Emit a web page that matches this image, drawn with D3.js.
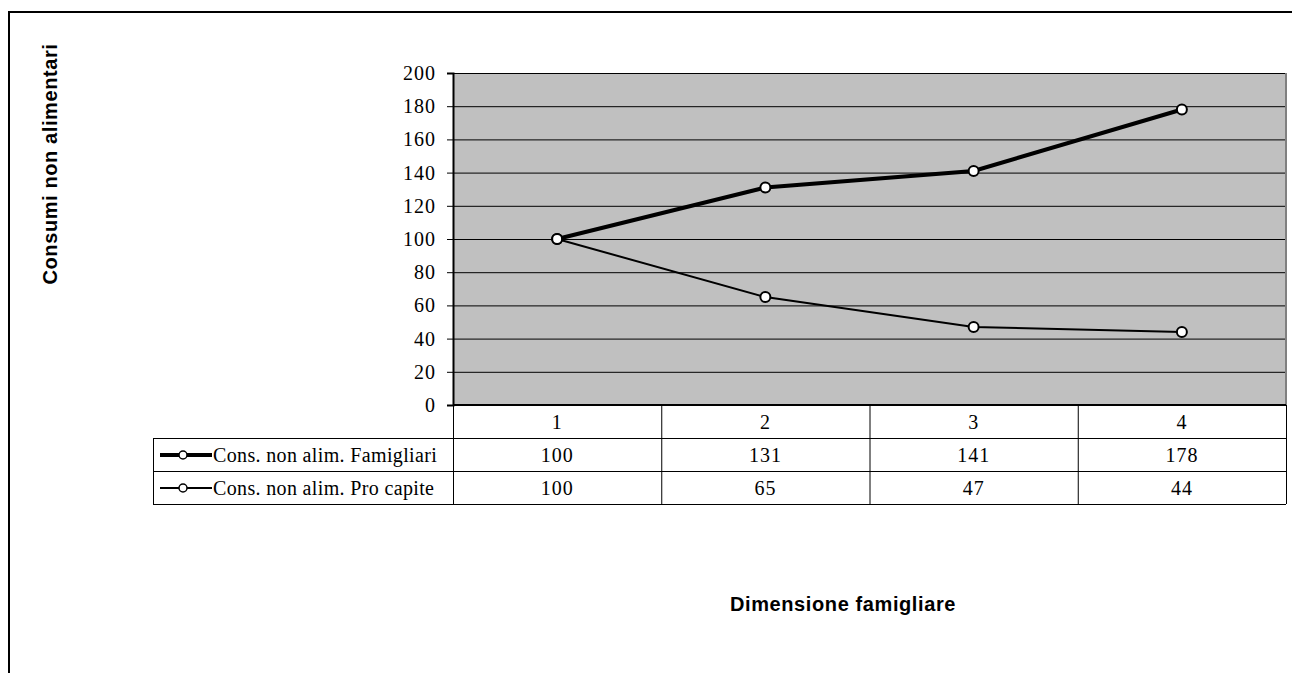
<!DOCTYPE html>
<html><head><meta charset="utf-8">
<script src="https://cdn.jsdelivr.net/npm/d3@7"></script>
<style>body{margin:0;background:#fff;}svg{display:block;}</style>
</head><body>
<svg id="c" width="1292" height="673"></svg>
<script>
const categories = ["1","2","3","4"];
const seriesNames = ["Cons. non alim. Famigliari","Cons. non alim. Pro capite"];
const famigliari = [100,131,141,178];
const proCapite = [100,65,47,44];
const yTicks = [0,20,40,60,80,100,120,140,160,180,200];
const yTitle = "Consumi non alimentari";
const xTitle = "Dimensione famigliare";

const series = [
  {name: seriesNames[0], values: famigliari, width: 4},
  {name: seriesNames[1], values: proCapite, width: 2}
];

const svg = d3.select("#c");
const L = 453, R = 1286, T = 73, B = 405;
const rowH = 33, tableLeft = 153;
const serif = "'Liberation Serif','Times New Roman',serif";
const sans = "'Liberation Sans',Arial,sans-serif";
const fs = 20;

// outer chart border
svg.append("rect").attr("x",9).attr("y",12).attr("width",1400).attr("height",800)
  .attr("fill","none").attr("stroke","#000").attr("stroke-width",2);

const x = d3.scaleBand().domain(categories).range([L,R]);
const y = d3.scaleLinear().domain([0,200]).range([B,T]);

// plot area
svg.append("rect").attr("x",L).attr("y",T).attr("width",R-L).attr("height",B-T).attr("fill","#c0c0c0");
// grid
svg.append("g").selectAll("line").data(yTicks.filter(d=>d>0)).join("line")
  .attr("x1",L).attr("x2",R).attr("y1",d=>y(d)+0.5).attr("y2",d=>y(d)+0.5)
  .attr("stroke","#000").attr("stroke-width",1);
// right border gray
svg.append("line").attr("x1",R).attr("x2",R).attr("y1",T).attr("y2",B).attr("stroke","#808080").attr("stroke-width",2);

// y axis
const yAxis = svg.append("g").attr("transform",`translate(${L},0)`)
  .call(d3.axisLeft(y).tickValues(yTicks).tickSize(6).tickPadding(11));
yAxis.select(".domain").attr("stroke","#000").attr("stroke-width",2);
yAxis.selectAll(".tick line").attr("stroke","#000");
yAxis.selectAll(".tick text").attr("font-family",serif).attr("font-size",fs)
  .attr("letter-spacing",1).attr("fill","#000");

// table
const tg = svg.append("g");
tg.append("line").attr("x1",L).attr("x2",R).attr("y1",B).attr("y2",B).attr("stroke","#000").attr("stroke-width",2);
[1,2,3].forEach(r=>{
  tg.append("line").attr("x1",tableLeft).attr("x2",R)
    .attr("y1",B+r*rowH+0.5).attr("y2",B+r*rowH+0.5).attr("stroke","#000");
});
categories.forEach(c=>{
  tg.append("line").attr("x1",x(c)+0.5).attr("x2",x(c)+0.5).attr("y1",B).attr("y2",B+3*rowH)
    .attr("stroke","#000");
});
tg.append("line").attr("x1",R+0.5).attr("x2",R+0.5).attr("y1",B).attr("y2",B+3*rowH).attr("stroke","#000");
tg.append("line").attr("x1",tableLeft+0.5).attr("x2",tableLeft+0.5).attr("y1",B+rowH).attr("y2",B+3*rowH).attr("stroke","#000");

tg.selectAll("text.cat").data(categories).join("text").attr("class","cat")
  .attr("x",d=>x(d)+x.bandwidth()/2).attr("y",B+rowH/2+7).attr("text-anchor","middle")
  .attr("font-family",serif).attr("font-size",fs).attr("letter-spacing",1).text(d=>d);

series.forEach((s,i)=>{
  const ry = B+(i+1)*rowH;
  tg.selectAll("text.v"+i).data(s.values).join("text").attr("class","v"+i)
    .attr("x",(d,j)=>x(categories[j])+x.bandwidth()/2).attr("y",ry+rowH/2+7).attr("text-anchor","middle")
    .attr("font-family",serif).attr("font-size",fs).attr("letter-spacing",1).text(d=>d);
  tg.append("line").attr("x1",160).attr("x2",212).attr("y1",ry+rowH/2+0.5).attr("y2",ry+rowH/2+0.5)
    .attr("stroke","#000").attr("stroke-width",s.width);
  tg.append("circle").attr("cx",183).attr("cy",ry+rowH/2+0.5).attr("r",4).attr("fill","#fff").attr("stroke","#000").attr("stroke-width",1.5);
  tg.append("text").attr("x",213).attr("y",ry+rowH/2+7).attr("font-family",serif).attr("font-size",fs)
    .attr("letter-spacing",0.35).text(s.name);
});

// lines
const line = d3.line().x((d,j)=>x(categories[j])+x.bandwidth()/2).y(d=>y(d));
series.forEach(s=>{
  svg.append("path").datum(s.values).attr("d",line).attr("fill","none").attr("stroke","#000").attr("stroke-width",s.width);
});
series.forEach(s=>{
  svg.append("g").selectAll("circle").data(s.values).join("circle")
    .attr("cx",(d,j)=>x(categories[j])+x.bandwidth()/2).attr("cy",d=>y(d)).attr("r",5)
    .attr("fill","#fff").attr("stroke","#000").attr("stroke-width",2);
});

// titles
svg.append("text").attr("transform","translate(57,164) rotate(-90)").attr("text-anchor","middle")
  .attr("font-family",sans).attr("font-weight","bold").attr("font-size",20).attr("letter-spacing",0.6).text(yTitle);
svg.append("text").attr("x",843).attr("y",611).attr("text-anchor","middle")
  .attr("font-family",sans).attr("font-weight","bold").attr("font-size",20).attr("letter-spacing",0.6).text(xTitle);
</script>
</body></html>
